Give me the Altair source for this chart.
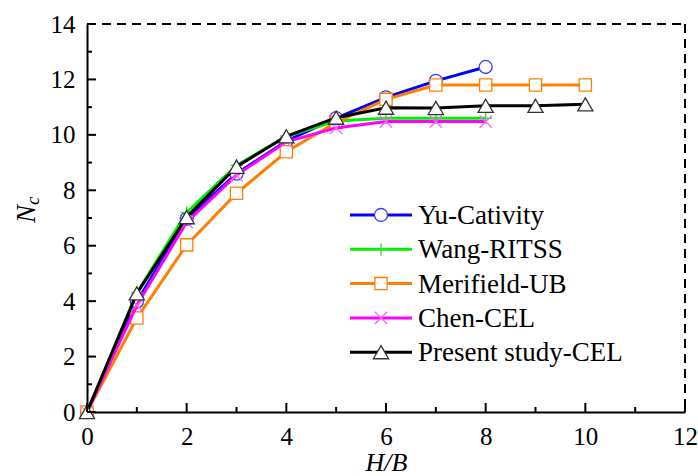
import altair as alt
import pandas as pd

# ---------------- data ----------------
hb_8 = [0, 1, 2, 3, 4, 5, 6, 7, 8]
hb_10 = [0, 1, 2, 3, 4, 5, 6, 7, 8, 9, 10]

yu_cativity = [0, 3.98, 6.97, 8.6, 9.78, 10.6, 11.35, 11.95, 12.45]
wang_ritss = [0, 4.3, 7.2, 8.9, 9.95, 10.5, 10.6, 10.6, 10.6]
merifield_ub = [0, 3.39, 6.03, 7.89, 9.39, 10.45, 11.28, 11.8, 11.8, 11.8, 11.8]
chen_cel = [0, 3.85, 6.85, 8.55, 9.75, 10.25, 10.48, 10.48, 10.48]
present_cel = [0, 4.28, 7.03, 8.85, 9.95, 10.62, 10.98, 10.97, 11.05, 11.05, 11.1]

names = ["Yu-Cativity", "Wang-RITSS", "Merifield-UB", "Chen-CEL", "Present study-CEL"]
x_major = [0, 2, 4, 6, 8, 10, 12]
x_minor = [1, 3, 5, 7, 9, 11]
y_major = [0, 2, 4, 6, 8, 10, 12, 14]
y_minor = [1, 3, 5, 7, 9, 11, 13]

series = {
    "Yu-Cativity": (hb_8, yu_cativity),
    "Wang-RITSS": (hb_8, wang_ritss),
    "Merifield-UB": (hb_10, merifield_ub),
    "Chen-CEL": (hb_8, chen_cel),
    "Present study-CEL": (hb_10, present_cel),
}

# ---------------- styles ----------------
W, H = 598, 388
FONT = "Liberation Serif, Times New Roman, serif"
PLUS = "M-1,0L1,0M0,-1L0,1"
CROSS = "M-1,-1L1,1M-1,1L1,-1"
style = {
    "Yu-Cativity": dict(line="#0000FF", stroke="#3A3AFF", shape="circle", size=170, fill="white"),
    "Wang-RITSS": dict(line="#00F000", stroke="#30E030", shape=PLUS, size=150, fill="transparent"),
    "Merifield-UB": dict(line="#FF8000", stroke="#FF8000", shape="square", size=150, fill="white"),
    "Chen-CEL": dict(line="#FF00FF", stroke="#FF60FF", shape=CROSS, size=150, fill="transparent"),
    "Present study-CEL": dict(line="#000000", stroke="#333333", shape="triangle-up", size=230, fill="white"),
}

xs = alt.Scale(domain=[0, 12], nice=False, zero=False)
ys = alt.Scale(domain=[0, 14], nice=False, zero=False)

ax_x = alt.Axis(values=x_major, title="H/B", titleFont=FONT, titleFontStyle="italic",
                titleFontSize=26, titleFontWeight="normal", titleColor="black",
                titlePadding=0, labelFont=FONT, labelFontSize=25, labelColor="black",
                labelPadding=12, ticks=False, domainColor="black", domainWidth=2,
                grid=False, labelFlush=False, labelOverlap=False, format="d")
ax_y = alt.Axis(values=y_major, title="", labelFont=FONT, labelFontSize=25,
                labelColor="black", labelPadding=12, ticks=False, domainColor="black",
                domainWidth=2, grid=False, labelFlush=False, labelOverlap=False, format="d")


def X(f):
    return alt.X(f, type="quantitative", scale=xs, axis=ax_x)


def Y(f):
    return alt.Y(f, type="quantitative", scale=ys, axis=ax_y)


one = pd.DataFrame({"d": [0]})
layers = []

# series lines and markers, drawn series by series
for name in names:
    xv, yv = series[name]
    df = pd.DataFrame({"hb": xv, "nc": yv})
    st = style[name]
    base = alt.Chart(df)
    layers.append(base.mark_line(color=st["line"], strokeWidth=3, clip=False).encode(x=X("hb"), y=Y("nc")))
    layers.append(base.mark_point(shape=st["shape"], size=st["size"], fill=st["fill"],
                                  stroke=st["stroke"], strokeWidth=1.3, opacity=1,
                                  clip=False).encode(x=X("hb"), y=Y("nc")))

# inside ticks
xt_major = pd.DataFrame({"v": x_major})
xt_minor = pd.DataFrame({"v": x_minor})
yt_major = pd.DataFrame({"v": y_major})
yt_minor = pd.DataFrame({"v": y_minor})
layers.append(alt.Chart(xt_major).mark_rule(color="black", strokeWidth=2).encode(
    x=X("v"), y=alt.value(H), y2=alt.value(H - 9)))
layers.append(alt.Chart(xt_minor).mark_rule(color="black", strokeWidth=2).encode(
    x=X("v"), y=alt.value(H), y2=alt.value(H - 5)))
layers.append(alt.Chart(yt_major).mark_rule(color="black", strokeWidth=2).encode(
    y=Y("v"), x=alt.value(0), x2=alt.value(9)))
layers.append(alt.Chart(yt_minor).mark_rule(color="black", strokeWidth=2).encode(
    y=Y("v"), x=alt.value(0), x2=alt.value(5)))

# dashed top and right frame
layers.append(alt.Chart(one).mark_rule(color="black", strokeWidth=2, strokeDash=[9, 6]).encode(
    x=alt.value(0), x2=alt.value(W), y=alt.value(0)))
layers.append(alt.Chart(one).mark_rule(color="black", strokeWidth=2, strokeDash=[9, 6]).encode(
    x=alt.value(W), y=alt.value(0), y2=alt.value(H)))

# legend
for i, name in enumerate(names):
    st = style[name]
    ly = 191 + 34.3 * i
    layers.append(alt.Chart(one).mark_rule(color=st["line"], strokeWidth=3).encode(
        x=alt.value(263), x2=alt.value(325), y=alt.value(ly)))
    layers.append(alt.Chart(one).mark_point(shape=st["shape"], size=st["size"], fill=st["fill"],
                                            stroke=st["stroke"], strokeWidth=1.3, opacity=1).encode(
        x=alt.value(294), y=alt.value(ly)))
    layers.append(alt.Chart(one).mark_text(text=name, align="left", baseline="middle", font=FONT,
                                           fontSize=27, color="black").encode(
        x=alt.value(331), y=alt.value(ly + 1)))

# y axis title N_c
layers.append(alt.Chart(one).mark_text(text="N", angle=270, align="center", baseline="alphabetic",
                                       font=FONT, fontSize=27, fontStyle="italic", color="black").encode(
    x=alt.value(-52), y=alt.value(190)))
layers.append(alt.Chart(one).mark_text(text="c", angle=270, align="left", baseline="alphabetic",
                                       font=FONT, fontSize=19, fontStyle="italic", color="black").encode(
    x=alt.value(-48), y=alt.value(181)))

chart = alt.layer(*layers).properties(
    width=W, height=H,
    autosize=alt.AutoSizeParams(type="none"),
    padding={"left": 87, "top": 24, "right": 13, "bottom": 64},
    background="white",
).configure_view(stroke=None)

chart.save("out.html", embed_options={"renderer": "svg", "actions": False})
